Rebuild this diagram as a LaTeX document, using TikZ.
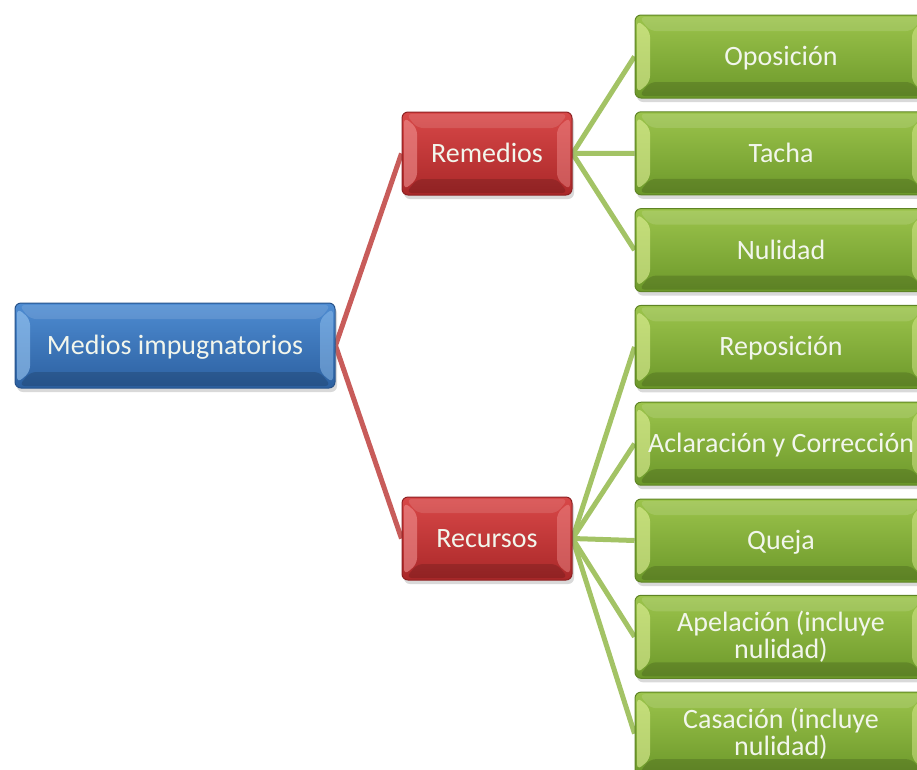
\documentclass[tikz,border=0pt]{standalone}
\usepackage{fontspec}
\setmainfont{Carlito}
\usetikzlibrary{shadows,backgrounds}
\definecolor{gtop}{HTML}{9CC44C}
\definecolor{gbot}{HTML}{6C982A}
\definecolor{gedge}{HTML}{5E8424}
\definecolor{ghi}{HTML}{E2F29A}
\definecolor{rtop}{HTML}{D84848}
\definecolor{rbot}{HTML}{AA2829}
\definecolor{redge}{HTML}{8E2022}
\definecolor{rhi}{HTML}{F09090}
\definecolor{btop}{HTML}{4E8CD2}
\definecolor{bbot}{HTML}{2C60A0}
\definecolor{bedge}{HTML}{26528A}
\definecolor{bhi}{HTML}{9CC8F2}
\definecolor{gline}{HTML}{A3C365}
\definecolor{rline}{HTML}{C85C5A}
\definecolor{txt}{HTML}{F2F6EC}
\tikzset{
  bevelled/.style={path picture={
    \fill[#1,opacity=0.6]
      ([xshift=2pt,yshift=-5pt]path picture bounding box.north west) --
      ([xshift=15pt,yshift=-16pt]path picture bounding box.north west) --
      ([xshift=15pt,yshift=16pt]path picture bounding box.south west) --
      ([xshift=2pt,yshift=5pt]path picture bounding box.south west) -- cycle;
    \fill[#1,opacity=0.45]
      ([xshift=-2pt,yshift=-5pt]path picture bounding box.north east) --
      ([xshift=-15pt,yshift=-16pt]path picture bounding box.north east) --
      ([xshift=-15pt,yshift=16pt]path picture bounding box.south east) --
      ([xshift=-2pt,yshift=5pt]path picture bounding box.south east) -- cycle;
    \fill[white,opacity=0.12]
      ([xshift=4pt,yshift=-2pt]path picture bounding box.north west) --
      ([xshift=-4pt,yshift=-2pt]path picture bounding box.north east) --
      ([xshift=-15pt,yshift=-16pt]path picture bounding box.north east) --
      ([xshift=15pt,yshift=-16pt]path picture bounding box.north west) -- cycle;
    \fill[black,opacity=0.15]
      ([xshift=4pt,yshift=2pt]path picture bounding box.south west) --
      ([xshift=-4pt,yshift=2pt]path picture bounding box.south east) --
      ([xshift=-15pt,yshift=16pt]path picture bounding box.south east) --
      ([xshift=15pt,yshift=16pt]path picture bounding box.south west) -- cycle;
  }},
  boxbase/.style={rounded corners=6pt, minimum height=83pt, inner sep=0pt,
    align=center, text=txt, font=\fontsize{28}{27}\selectfont, line width=1pt,
    drop shadow={opacity=0.3, shadow xshift=2pt, shadow yshift=-4pt}},
  oneline/.style={text height=20pt, text depth=2pt},
  gbox/.style={boxbase, minimum width=292pt, top color=gtop, bottom color=gbot,
    draw=gedge, bevelled=ghi},
  rbox/.style={boxbase, oneline, minimum width=170pt, top color=rtop, bottom color=rbot,
    draw=redge, bevelled=rhi},
  bbox/.style={boxbase, oneline, minimum width=320pt, minimum height=85pt, top color=btop,
    bottom color=bbot, draw=bedge, bevelled=bhi},
  gconn/.style={draw=gline, line width=5pt},
  rconn/.style={draw=rline, line width=5pt},
}
\begin{document}
\begin{tikzpicture}[x=1pt,y=-1pt]
\useasboundingbox (0,0) rectangle (917,769);
\clip (0,0) rectangle (917,769);
\node[bbox] (medios) at (175,345.5) {Medios impugnatorios};
\node[rbox] (remedios) at (487,153.5) {Remedios};
\node[rbox] (recursos) at (487,538.5) {Recursos};
\node[gbox,oneline] (oposicion) at (781,56.5) {Oposición};
\node[gbox,oneline] (tacha) at (781,153.3) {Tacha};
\node[gbox,oneline] (nulidad) at (781,250.1) {Nulidad};
\node[gbox,oneline] (reposicion) at (781,346.9) {Reposición};
\node[gbox,oneline] (aclaracion) at (781,443.7) {Aclaración y Corrección};
\node[gbox,oneline] (queja) at (781,540.5) {Queja};
\node[gbox] (apelacion) at (781,636.8) {Apelación (incluye\\nulidad)};
\node[gbox] (casacion) at (781,733.6) {Casación (incluye\\nulidad)};
\begin{scope}[on background layer]
  \draw[rconn] (medios.east) -- (remedios.west);
  \draw[rconn] (medios.east) -- (recursos.west);
  \foreach \t in {oposicion,tacha,nulidad}
    \draw[gconn] (remedios.east) -- (\t.west);
  \foreach \t in {reposicion,aclaracion,queja,apelacion,casacion}
    \draw[gconn] (recursos.east) -- (\t.west);
\end{scope}
\end{tikzpicture}
\end{document}
